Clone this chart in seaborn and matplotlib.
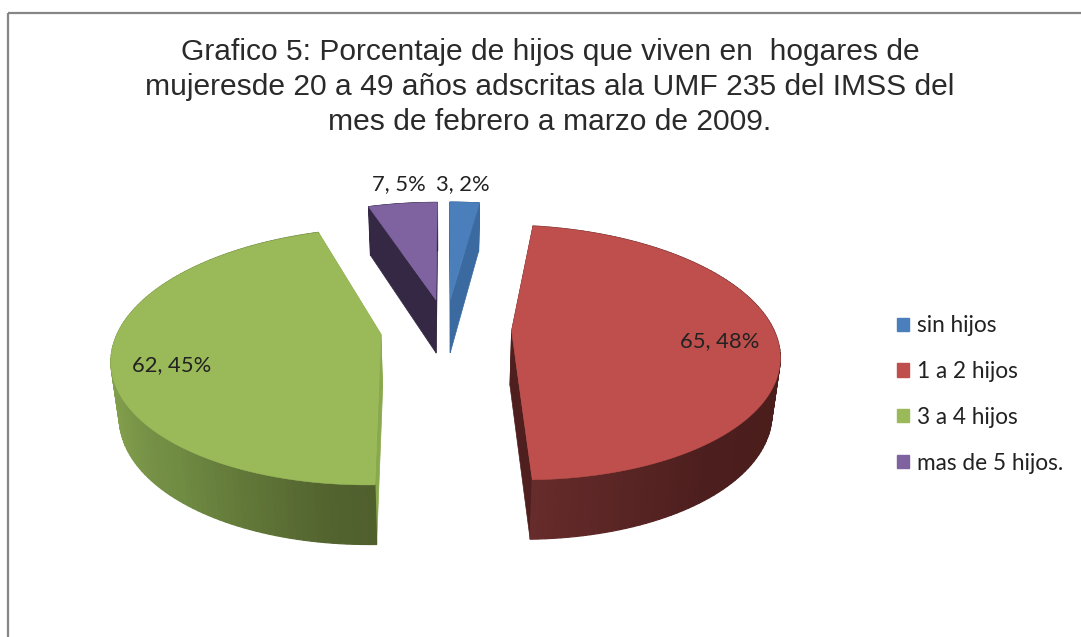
import numpy as np
import seaborn as sns
import matplotlib
matplotlib.use("Agg")
import matplotlib.pyplot as plt
from matplotlib.patches import Patch, Polygon, Rectangle

categories = ["sin hijos", "1 a 2 hijos", "3 a 4 hijos", "mas de 5 hijos."]
counts = [3, 65, 62, 7]
percents = [2, 48, 45, 5]
title = ("Grafico 5: Porcentaje de hijos que viven en  hogares de\n"
         "mujeresde 20 a 49 años adscritas ala UMF 235 del IMSS del\n"
         "mes de febrero a marzo de 2009.")

top_colors = ["#4b7fbc", "#be4f4c", "#9aba59", "#7f63a1"]
cut_colors = ["#3a6a9f", "#4e1f1e", "#8aa84c", "#342844"]
rim_colors = [["#3a6a9f", "#3a6a9f"],
              ["#662b2b", "#4c1e1d", "#4a1e1c"],
              ["#87a44f", "#6f8a42", "#505f2d"],
              ["#342844", "#342844"]]

sns.set_theme(style="white")
plt.rcParams["font.family"] = ["Liberation Sans", "DejaVu Sans"]

# projection of the flat pie onto the picture, in pixels
CX, CY, SX, SY, PERSP = 446, 329, 262, 123, 0.17


def project(x, y):
    d = 1 + PERSP * y
    return CX + SX * x / d, CY - SY * y / d


def lower(px, y):
    # same point on the bottom side of the pie
    return CX + (px - CX) * 0.975, 54.5 - 4.9 * y


fig = plt.figure(figsize=(10.81, 6.37), dpi=100)
ax = fig.add_axes([0, 0, 1, 1])
wedges, _ = ax.pie(counts, explode=[0.25] * 4, startangle=90, counterclock=False, colors=top_colors)

geo = []
for w in wedges:
    geo.append((w.center, w.theta1, w.theta2, w.r))
    w.remove()

ax.set_aspect("auto")
ax.set_xlim(0, 1081)
ax.set_ylim(637, 0)
ax.axis("off")
ax.add_patch(Rectangle((8, 13), 1300, 900, fill=False, ec="#868686", lw=1.6))

for i, ((x0, y0), t1, t2, r) in enumerate(geo):
    ang = np.radians(np.linspace(t1, t2, 120))
    fx = x0 + r * np.cos(ang)
    fy = y0 + r * np.sin(ang)
    px, py = project(fx, fy)
    ax_px, ax_py = project(x0, y0)

    # straight cut sides
    for k in (0, -1):
        a = (px[k], py[k])
        b = (float(ax_px), float(ax_py))
        ax_low = lower(b[0], y0)
        rim_low = lower(a[0], fy[k])
        ax.add_patch(Polygon([a, b, (ax_low[0], b[1] + ax_low[1]), (rim_low[0], a[1] + rim_low[1])],
                             fc=cut_colors[i], ec=cut_colors[i], lw=0.5, zorder=2))

    # outer wall, shaded from left to right across the picture
    order = np.argsort(px)
    shades = sns.blend_palette(rim_colors[i], n_colors=len(px))
    for j in range(len(px) - 1):
        lo0 = lower(px[j], fy[j])
        lo1 = lower(px[j + 1], fy[j + 1])
        rank = int(np.where(order == j)[0][0])
        ax.add_patch(Polygon([(px[j], py[j]), (px[j + 1], py[j + 1]),
                              (lo1[0], py[j + 1] + lo1[1]), (lo0[0], py[j] + lo0[1])],
                             fc=shades[rank], ec=shades[rank], lw=0.9, zorder=3))

    # top face
    face = [(float(ax_px), float(ax_py))] + list(zip(px, py))
    ax.add_patch(Polygon(face, fc=top_colors[i], ec=top_colors[i], lw=0.4, zorder=4))

fig.text(550 / 1081, 1 - 87 / 637, title, ha="center", va="center", fontsize=21.6, color="#2a2a2a",
         linespacing=1.3)

label_pos = [(463, 184), (720, 341), (172, 365), (399, 184)]
for (lx, ly), c, p in zip(label_pos, counts, percents):
    ax.text(lx, ly, f"{c}, {p}%", ha="center", va="center", fontsize=15.8, family="Lato", color="#222222",
            zorder=5)

handles = [Patch(fc=c, ec=c, label=n) for c, n in zip(top_colors, categories)]
fig.legend(handles=handles, loc="center left", bbox_to_anchor=(897 / 1081, 1 - 394.5 / 637), frameon=False,
           prop={"family": "Lato", "size": 16.3}, labelcolor="#222222", handlelength=0.53, handleheight=0.53,
           handletextpad=0.35, labelspacing=1.09, borderpad=0, borderaxespad=0)

fig.savefig("out.png", dpi=100)
